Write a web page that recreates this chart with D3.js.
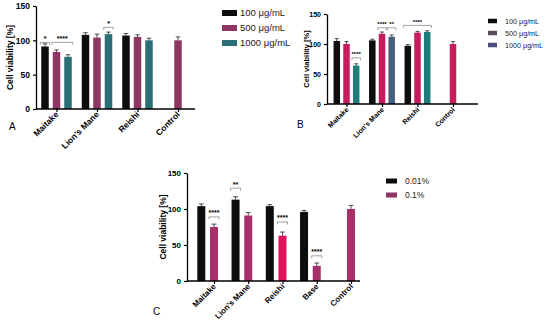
<!DOCTYPE html>
<html>
<head>
<meta charset="utf-8">
<script src="https://cdn.jsdelivr.net/npm/d3@7"></script>
<style>
  body { margin: 0; background: #fff; }
  svg text { font-family: Arial, "Liberation Sans", sans-serif; }
</style>
</head>
<body>
<div id="chart"></div>
<script>
// ---- data ----
const groupsAB = ["Maitake", "Lion's Mane", "Reishi", "Control"];
const groupsC = ["Maitake", "Lion's Mane", "Reishi", "Base", "Control"];
const seriesAB = ["100 μg/mL", "500 μg/mL", "1000 μg/mL"];
const seriesC = ["0.01%", "0.1%"];
const yTicks = [0, 50, 100, 150];

// values per group, one per series (null = no bar)
const valuesA = [[91, 83, 76], [108, 104, 109], [107, 105, 100], [null, 100, null]];
const errorsA = [[4, 3, 3], [3, 5, 3], [3, 3, 3], [null, 5, null]];
const valuesB = [[105, 100, 64], [106, 117, 112], [97, 119, 120], [null, 100, null]];
const errorsB = [[4, 4, 3], [2, 3, 3], [2, 2, 2], [null, 4, null]];
const valuesC = [[104, 75], [113, 91], [104, 63], [96, 21], [null, 100]];
const errorsC = [[3, 4], [4, 4], [2, 5], [2, 4], [null, 5]];

// significance: group index, first/last series index, bracket level, label
const sigA = [
  { g: 0, from: 0, to: 0, y: 97, label: "*" },
  { g: 0, from: 1, to: 2, y: 97, label: "****" },
  { g: 1, from: 2, to: 2, y: 119, label: "*" }
];
const sigB = [
  { g: 0, from: 2, to: 2, y: 77, label: "****" },
  { g: 1, from: 1, to: 1, y: 127, label: "****" },
  { g: 1, from: 2, to: 2, y: 127, label: "**" },
  { g: 2, from: 0, to: 2, y: 131, label: "****" }
];
const sigC = [
  { g: 0, from: 1, to: 1, y: 89, label: "****" },
  { g: 1, from: 0, to: 0, y: 129, label: "**" },
  { g: 2, from: 1, to: 1, y: 82, label: "****" },
  { g: 3, from: 1, to: 1, y: 35, label: "****" }
];

const svg = d3.select("#chart").append("svg")
  .attr("width", 550).attr("height", 329);

function drawPanel(p) {
  const g = svg.append("g");
  const x = d3.scalePoint().domain(p.groups).range(p.xr);
  const y = d3.scaleLinear().domain([0, 150]).range(p.yr);
  // slot offset of a series relative to the group tick
  const off = j => (j - p.center) * p.step;

  const bars = [];
  p.values.forEach((row, gi) => row.forEach((v, j) => {
    if (v != null) bars.push({ g: p.groups[gi], j: j, v: v, e: p.errors[gi][j], color: p.barColor(gi, j) });
  }));

  g.selectAll(".bar").data(bars).enter().append("rect")
    .attr("x", d => x(d.g) + off(d.j) - p.bw / 2)
    .attr("y", d => y(d.v))
    .attr("width", p.bw)
    .attr("height", d => y(0) - y(d.v))
    .attr("fill", d => d.color);

  // error bars (upper only)
  g.selectAll(".err").data(bars).enter().append("path")
    .attr("d", d => {
      const cx = x(d.g) + off(d.j), t = y(d.v + d.e), c = p.bw * 0.3;
      return `M${cx},${y(d.v)}V${t}M${cx - c},${t}H${cx + c}`;
    })
    .attr("stroke", "#222").attr("stroke-width", 0.8).attr("fill", "none");

  // significance brackets
  const sg = g.selectAll(".sig").data(p.sig).enter().append("g");
  sg.append("path")
    .attr("d", d => {
      const x0 = x(p.groups[d.g]) + off(d.from) - p.bw / 2 - 1;
      const x1 = x(p.groups[d.g]) + off(d.to) + p.bw / 2 + 1;
      const yy = y(d.y);
      return `M${x0},${yy + 2.5}V${yy}H${x1}V${yy + 2.5}`;
    })
    .attr("stroke", "#666").attr("stroke-width", 0.6).attr("fill", "none");
  sg.append("text")
    .attr("x", d => x(p.groups[d.g]) + (off(d.from) + off(d.to)) / 2)
    .attr("y", d => y(d.y) - 1.5)
    .attr("text-anchor", "middle")
    .attr("font-size", p.sigSize).attr("font-weight", "bold")
    .text(d => d.label);

  // y axis
  const yAxis = g.append("g").attr("transform", `translate(${p.ax[0]},0)`)
    .call(d3.axisLeft(y).tickValues(yTicks).tickSize(3).tickSizeOuter(0));
  yAxis.select(".domain").attr("stroke-width", 1.3);
  yAxis.selectAll(".tick line").attr("stroke-width", 1.2);
  yAxis.selectAll("text").attr("font-size", p.tickSize).attr("font-weight", "bold")
    .attr("font-family", "Arial, 'Liberation Sans', sans-serif").attr("fill", "#000");

  // x axis: ticks from the point scale, baseline across the plot
  const xAxis = g.append("g").attr("transform", `translate(0,${y(0)})`)
    .call(d3.axisBottom(x).tickSize(3).tickSizeOuter(0));
  xAxis.select(".domain").remove();
  xAxis.append("line").attr("x1", p.ax[0]).attr("x2", p.ax[1])
    .attr("stroke", "#000").attr("stroke-width", 1.3);
  xAxis.selectAll(".tick line").attr("stroke-width", 1.2);
  xAxis.selectAll(".tick text")
    .attr("font-size", p.tickSize).attr("font-weight", "bold")
    .attr("font-family", "Arial, 'Liberation Sans', sans-serif").attr("fill", "#000")
    .attr("text-anchor", "end")
    .attr("dy", null).attr("y", 0)
    .attr("transform", "translate(2,6) rotate(-45)");

  // y title
  g.append("text")
    .attr("transform", `translate(${p.titleX},${(p.yr[0] + p.yr[1]) / 2}) rotate(-90)`)
    .attr("text-anchor", "middle").attr("dy", "0.35em")
    .attr("font-size", p.titleSize).attr("font-weight", "bold")
    .text("Cell viability [%]");

  // legend
  const lg = g.selectAll(".leg").data(p.series).enter().append("g")
    .attr("transform", (d, i) => `translate(${p.leg.x},${p.leg.y + i * p.leg.dy})`);
  lg.append("rect").attr("x", 0).attr("y", -p.leg.sh / 2)
    .attr("width", p.leg.sw).attr("height", p.leg.sh)
    .attr("fill", (d, i) => p.legColor[i]);
  lg.append("text").attr("x", p.leg.tx).attr("dy", "0.35em")
    .attr("font-size", p.leg.size).attr("fill", "#222").text(d => d);

  // panel letter
  g.append("text").attr("x", p.letter[0]).attr("y", p.letter[1])
    .attr("font-family", "'Liberation Serif', 'DejaVu Serif', serif")
    .attr("font-size", 10).text(p.letter[2]);
}

const black = "#0d0d0d";

drawPanel({
  groups: groupsAB, series: seriesAB, values: valuesA, errors: errorsA, sig: sigA,
  xr: [56.5, 178], yr: [109, 6], ax: [36, 195], center: 1, step: 11.5, bw: 7.5,
  barColor: (gi, j) => [black, "#8e3563", "#2a6e76"][j],
  legColor: [black, "#8e3563", "#2a6e76"],
  sigSize: 7, tickSize: 8.5, titleSize: 8.5, titleX: 10,
  leg: { x: 222, y: 13, dy: 15, sw: 15, sh: 6, tx: 18, size: 9.5 },
  letter: [9, 130, "A"]
});

drawPanel({
  groups: groupsAB, series: seriesAB, values: valuesB, errors: errorsB, sig: sigB,
  xr: [346.5, 453], yr: [104, 14], ax: [327, 478], center: 1, step: 9.7, bw: 6.5,
  barColor: (gi, j) => j === 0 ? black : j === 1 ? "#c81b5d" : (gi === 1 ? "#4a5d7e" : "#1f7b7c"),
  legColor: [black, "#5e4b5e", "#4b4c7e"],
  sigSize: 6, tickSize: 7, titleSize: 7.5, titleX: 306,
  leg: { x: 488, y: 21, dy: 12, sw: 9, sh: 4.5, tx: 17, size: 7.2 },
  letter: [297, 128, "B"]
});

drawPanel({
  groups: groupsC, series: seriesC, values: valuesC, errors: errorsC, sig: sigC,
  xr: [214, 351], yr: [281, 173], ax: [187, 360], center: 1, step: 12.7, bw: 8,
  barColor: (gi, j) => j === 0 ? black : (gi === 2 ? "#e0115c" : "#a8306a"),
  legColor: [black, "#8e3563"],
  sigSize: 7, tickSize: 8, titleSize: 8.5, titleX: 163,
  leg: { x: 386, y: 181, dy: 14, sw: 11, sh: 5, tx: 19, size: 8.5 },
  letter: [153, 315, "C"]
});
</script>
</body>
</html>
